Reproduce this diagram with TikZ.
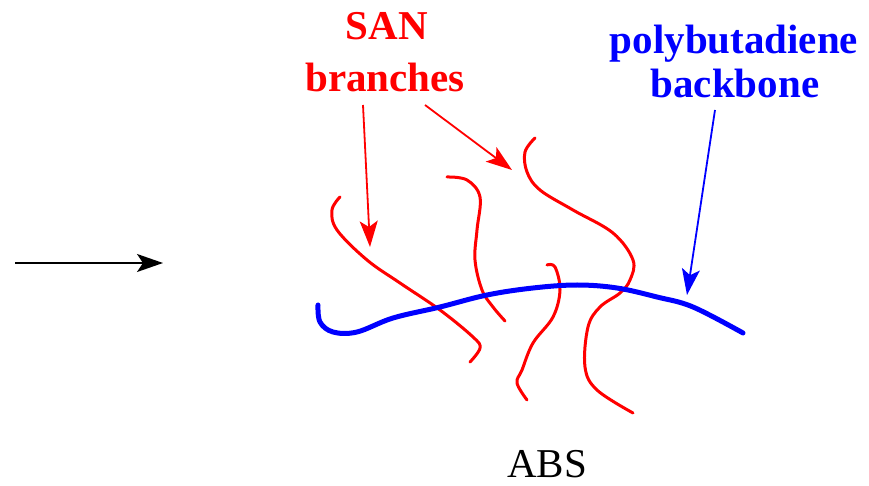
\documentclass[tikz,border=0pt]{standalone}
\usepackage{fontspec}
\setmainfont{Liberation Serif}
\usetikzlibrary{arrows.meta}
\begin{document}
\begin{tikzpicture}[x=0.5pt,y=-0.5pt,>={Stealth[length=13pt,width=9pt,inset=3pt]},
	label text/.style={font=\fontsize{20.5}{24}\selectfont\bfseries,anchor=base,inner sep=0pt},
	chain/.style={line width=1.5pt,red,line cap=round,line join=round},
	spine/.style={line width=2.5pt,blue,line cap=round,line join=round},
	pointer/.style={->,line width=0.9pt}]

	\useasboundingbox (0,0) rectangle (869,486);

	% labels
	\node[label text,text=red] (san) at (387,40) {SAN};
	\node[label text,text=red] (branches) at (385,92) {branches};
	\node[label text,text=blue] (poly) at (734,54) {polybutadiene};
	\node[label text,text=blue] (backbone) at (735,98) {backbone};
	\node[label text,font=\fontsize{20.5}{24}\selectfont] (abs) at (547,478) {ABS};

	% arrow ends
	\coordinate (inleft) at (15,263);
	\coordinate (inright) at (163,263);
	\coordinate (brA) at (363,105);
	\coordinate (brAtip) at (370,247);
	\coordinate (brB) at (425,105);
	\coordinate (brBtip) at (512,170);
	\coordinate (bb) at (715,110);
	\coordinate (bbtip) at (687,295);

	% SAN chains
	\draw[chain] plot[smooth,tension=0.6] coordinates {(340,197) (332,210) (337,230) (367,260) (400,283) (440,310) (473,337) (480,348) (470,362)};
	\draw[chain] plot[smooth,tension=0.6] coordinates {(447,177) (467,180) (480,197) (477,230) (475,260) (482,290) (493,307) (505,321)};
	\draw[chain] plot[smooth,tension=0.6] coordinates {(535,138) (525,152) (527,172) (540,190) (573,210) (613,233) (633,260) (630,280) (620,293) (600,307) (588,327) (585,367) (597,390) (633,413)};
	\draw[chain] plot[smooth,tension=0.6] coordinates {(547,265) (555,267) (560,290) (553,317) (533,343) (522,370) (517,383) (527,400)};

	% polybutadiene chain
	\draw[spine] plot[smooth,tension=0.6] coordinates {(318,305) (320,322) (333,332) (357,332) (393,318) (440,307) (487,295) (533,288) (577,285) (617,288) (657,297) (693,307) (743,333)};

	\draw[pointer] (inleft) -- (inright);
	\draw[pointer,red] (brA) -- (brAtip);
	\draw[pointer,red] (brB) -- (brBtip);
	\draw[pointer,blue] (bb) -- (bbtip);
\end{tikzpicture}
\end{document}
